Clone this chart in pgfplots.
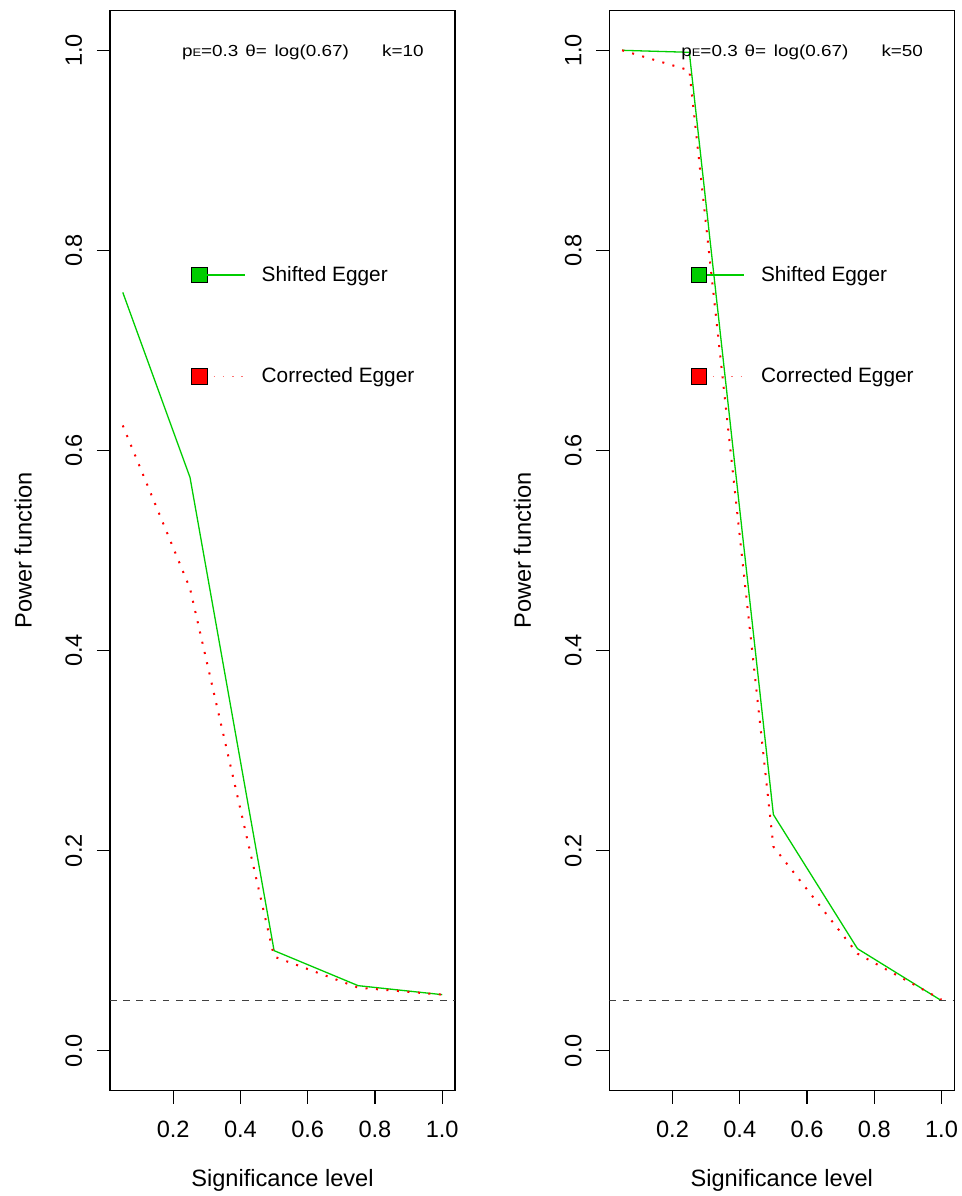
\documentclass[border=0pt]{standalone}
\usepackage{fontspec}
\setmainfont{Liberation Sans}
\newfontfamily\annfont[FakeStretch=1.18]{Liberation Sans}
\usepackage{pgfplots}
\pgfplotsset{compat=1.18}
\definecolor{rgreen}{HTML}{00CD00}
\definecolor{rred}{HTML}{FF0000}

\tikzset{annot/.style={anchor=base west, inner sep=0pt, font=\annfont\fontsize{8}{9}\selectfont}}

\pgfplotsset{
  powerstyle/.style={
    scale only axis, width=172.5pt, height=540.2pt,
    xmin=0.012, xmax=1.038, ymin=-0.04, ymax=1.04,
    xtick={0.2,0.4,0.6,0.8,1.0}, ytick={0,0.2,0.4,0.6,0.8,1.0},
    tick align=outside, xtick pos=lower, ytick pos=left,
    major tick length=6.5pt,
    axis line style={line width=0.6pt},
    every tick/.style={black, line width=0.6pt},
    /pgf/number format/assume math mode=true,
    xticklabel style={/pgf/number format/fixed, /pgf/number format/fixed zerofill, /pgf/number format/precision=1,
      font=\fontsize{11.8}{14}\selectfont, anchor=north, inner sep=0pt},
    yticklabel style={/pgf/number format/fixed, /pgf/number format/fixed zerofill, /pgf/number format/precision=1,
      font=\fontsize{11.8}{14}\selectfont, rotate=90, anchor=base, inner sep=0pt},
    xticklabel shift=8.5pt, yticklabel shift=7.5pt,
    xlabel={Significance level}, ylabel={Power function},
    xlabel style={at={(axis description cs:0.5,-0.0728)}, anchor=north, inner sep=0pt, font=\fontsize{11.8}{14}\selectfont},
    ylabel style={at={(axis description cs:-0.2270,0.5)}, anchor=base, inner sep=0pt, font=\fontsize{11.8}{14}\selectfont},
    legend style={at={(axis description cs:0.2354,0.7668)}, anchor=north west, draw=none, fill=none,
      inner sep=0pt, outer sep=0pt, row sep=37.9pt, column sep=0pt,
      font=\fontsize{10.4}{12}\selectfont,
      cells={anchor=west, inner sep=0pt, text height=7.4pt, text depth=0pt}},
  },
  greenline/.style={rgreen, line width=0.65pt,
    legend image code/.code={
      \draw[black, line width=0.5pt, fill=rgreen] (0pt,-3.9pt) rectangle (7.85pt,3.9pt);
      \draw[rgreen, line width=0.65pt] (7.85pt,0pt) -- (26.5pt,0pt);
      \path[draw=none, fill=none] (0pt,0pt) -- (33pt,0pt);
    }},
  redline/.style={rred, line width=1pt, dash pattern=on 1pt off 4.25pt,
    legend image code/.code={
      \draw[black, line width=0.5pt, fill=rred, solid] (0pt,-3.9pt) rectangle (7.85pt,3.9pt);
      \draw[rred!55, line width=0.7pt, dash pattern=on 0.7pt off 3.9pt] (11pt,0pt) -- (26.5pt,0pt);
      \path[draw=none, fill=none] (0pt,0pt) -- (33pt,0pt);
    }},
  refline/.style={black!75, line width=0.7pt, dash pattern=on 3.3pt off 3.3pt, forget plot},
}

\begin{document}
\begin{tikzpicture}
\useasboundingbox (0,0) rectangle (481pt,598pt);

% Left panel: k = 10
\begin{axis}[powerstyle, at={(55pt,52.65pt)}, anchor=south west]
\addplot[greenline] coordinates {(0.05,0.758) (0.25,0.573) (0.5,0.100) (0.75,0.065) (1.0,0.056)};
\addlegendentry{Shifted Egger}
\addplot[redline] coordinates {(0.05,0.625) (0.25,0.462) (0.5,0.094) (0.75,0.063) (1.0,0.056)};
\addlegendentry{Corrected Egger}
\addplot[refline] coordinates {(0.012,0.05) (1.038,0.05)};
\node[annot] at (axis cs:0.225,0.9943) {p\raisebox{-0.3pt}{\fontsize{5.5}{6}\selectfont E}=0.3};
\node[annot] at (axis cs:0.4135,0.9943) {θ=\hspace{3.8pt}log(0.67)};
\node[annot] at (axis cs:0.8204,0.9943) {k=10};
\end{axis}

% Right panel: k = 50
\begin{axis}[powerstyle, at={(304.65pt,52.65pt)}, anchor=south west]
\addplot[greenline] coordinates {(0.05,1.000) (0.25,0.998) (0.5,0.236) (0.75,0.102) (1.0,0.050)};
\addlegendentry{Shifted Egger}
\addplot[redline] coordinates {(0.05,1.000) (0.25,0.980) (0.5,0.204) (0.75,0.097) (1.0,0.051)};
\addlegendentry{Corrected Egger}
\addplot[refline] coordinates {(0.012,0.05) (1.038,0.05)};
\node[annot] at (axis cs:0.225,0.9943) {p\raisebox{-0.3pt}{\fontsize{5.5}{6}\selectfont E}=0.3};
\node[annot] at (axis cs:0.4135,0.9943) {θ=\hspace{3.8pt}log(0.67)};
\node[annot] at (axis cs:0.8204,0.9943) {k=50};
\end{axis}
\end{tikzpicture}
\end{document}
